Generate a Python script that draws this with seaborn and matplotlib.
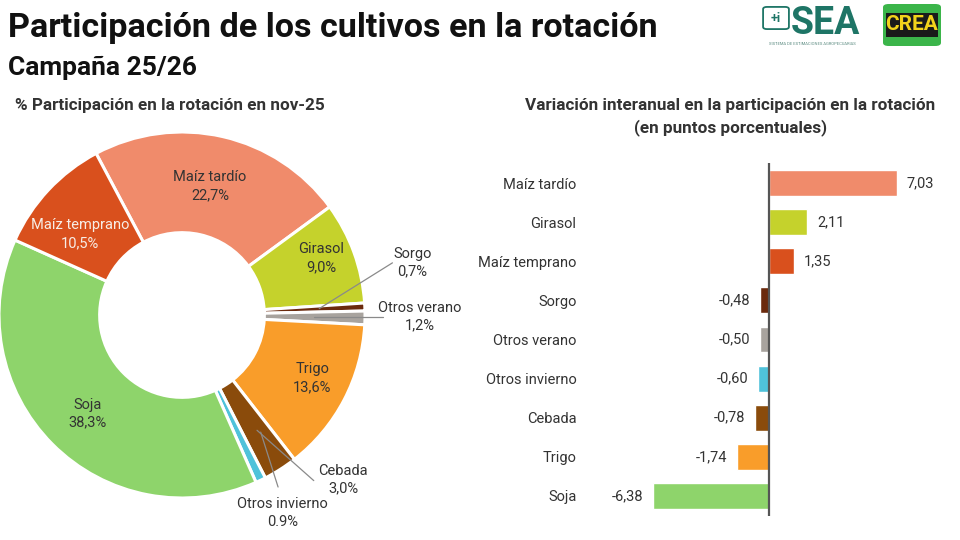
import numpy as np
import pandas as pd
import matplotlib
matplotlib.use("Agg")
import matplotlib.pyplot as plt
from matplotlib.patches import FancyBboxPatch, Rectangle
import seaborn as sns

# ---------------- data ----------------
pie_crops = ["Maíz tardío", "Girasol", "Sorgo", "Otros verano", "Trigo",
             "Cebada", "Otros invierno", "Soja", "Maíz temprano"]
pie_values = [22.7, 9.0, 0.7, 1.2, 13.6, 3.0, 0.9, 38.3, 10.5]
pie_value_text = ["22,7%", "9,0%", "0,7%", "1,2%", "13,6%", "3,0%", "0.9%", "38,3%", "10,5%"]

bar_crops = ["Maíz tardío", "Girasol", "Maíz temprano", "Sorgo", "Otros verano",
             "Otros invierno", "Cebada", "Trigo", "Soja"]
bar_values = [7.03, 2.11, 1.35, -0.48, -0.50, -0.60, -0.78, -1.74, -6.38]

colors = {
    "Maíz tardío": "#F08B6B",
    "Girasol": "#C5D22C",
    "Sorgo": "#6B2A0D",
    "Otros verano": "#A8A39E",
    "Trigo": "#F99D2A",
    "Cebada": "#8A4B0B",
    "Otros invierno": "#4FC2DA",
    "Soja": "#8ED46B",
    "Maíz temprano": "#D9501D",
}

title = "Participación de los cultivos en la rotación"
subtitle = "Campaña 25/26"
left_title = "% Participación en la rotación en nov-25"
right_title = "Variación interanual en la participación en la rotación\n(en puntos porcentuales)"

# ---------------- style ----------------
sns.set_theme(style="white")
plt.rcParams["font.family"] = ["Roboto", "DejaVu Sans"]
TXT = "#333333"

W, H = 960, 540
fig = plt.figure(figsize=(9.6, 5.4), dpi=100)
fig.patch.set_facecolor("white")

def fx(x):
    return x / W

def fy(y):
    return 1 - y / H

# titles
fig.text(fx(8), fy(37), title, fontsize=24.6, weight="bold", color="#111111", va="baseline")
fig.text(fx(8), fy(75), subtitle, fontsize=19, weight="bold", color="#111111", va="baseline")
fig.text(fx(15), fy(110), left_title, fontsize=12.3, weight="bold", color=TXT, va="baseline")
fig.text(fx(730), fy(117), right_title, fontsize=12.3, weight="bold", color=TXT,
         va="center", ha="center", linespacing=1.5)

# ---------------- donut ----------------
cx, cy, R = 182, 315, 183
axp = fig.add_axes([fx(cx - R), fy(cy + R), 2 * R / W, 2 * R / H])
wedges, _ = axp.pie(pie_values, colors=[colors[c] for c in pie_crops], startangle=118,
                    counterclock=False, radius=1,
                    wedgeprops=dict(width=0.55, edgecolor="white", linewidth=2.2))
axp.set_xlim(-1, 1)
axp.set_ylim(-1, 1)
axp.set_aspect("equal")
axp.axis("off")

# label placement: (radius, angle shift in degrees) from wedge middle
inside = {"Maíz tardío": (0.72, 0.6), "Girasol": (0.82, 2.3), "Trigo": (0.79, 1.7),
          "Soja": (0.745, 1.4), "Maíz temprano": (0.71, 4.6)}
outside = {
    # text position, line start, line end (data units of the donut axes)
    "Sorgo": ((1.26, 0.285), (0.75, 0.035), (1.15, 0.285)),
    "Otros verano": ((1.30, -0.01), (0.72, -0.011), (1.10, -0.011)),
    "Cebada": ((0.88, -0.90), (0.41, -0.63), (0.72, -0.905)),
    "Otros invierno": ((0.55, -1.08), (0.43, -0.64), (0.525, -0.94)),
}
for w, crop, lab in zip(wedges, pie_crops, pie_value_text):
    mid = np.deg2rad((w.theta1 + w.theta2) / 2)
    if crop in inside:
        r, dang = inside[crop]
        a = mid + np.deg2rad(dang)
        col = "#F7EDE6" if crop == "Maíz temprano" else TXT
        axp.text(r * np.cos(a), r * np.sin(a), f"{crop}\n{lab}", ha="center", va="center",
                 fontsize=10.5, color=col, linespacing=1.35)
    else:
        (tx, ty), (x0, y0), (x1, y1) = outside[crop]
        axp.plot([x0, x1], [y0, y1], color="#8a8a8a", lw=0.9, clip_on=False)
        axp.text(tx, ty, f"{crop}\n{lab}", ha="center", va="center", fontsize=10.5,
                 color=TXT, linespacing=1.35, clip_on=False)

# ---------------- bars ----------------
df = pd.DataFrame({"cultivo": bar_crops, "valor": bar_values})
axb = fig.add_axes([fx(582), fy(515.5), (940 - 582) / W, 352 / H])
sns.barplot(data=df, x="valor", y="cultivo", hue="cultivo", palette=colors, legend=False,
            orient="h", width=0.66, saturation=1, ax=axb)
axb.set_xlim(-(769 - 582) / 18.2, (940 - 769) / 18.2)
axb.set_ylim(len(bar_crops) - 0.5, -0.5)
axb.axvline(0, color="#555555", lw=1.6)
for s in axb.spines.values():
    s.set_visible(False)
axb.set_xticks([])
axb.set_xlabel("")
axb.set_ylabel("")
axb.tick_params(axis="y", length=0, pad=4, labelsize=10.5, labelcolor=TXT)
for i, v in enumerate(bar_values):
    txt = f"{v:.2f}".replace(".", ",")
    off = 0.55
    axb.text(v + off if v >= 0 else v - off, i, txt, ha="left" if v >= 0 else "right",
             va="center", fontsize=10.5, color=TXT)

# ---------------- logos ----------------
teal = "#1E7566"
fig.text(fx(791), fy(34), "SEA", fontsize=27, weight="bold", color=teal, va="baseline")
fig.patches.append(FancyBboxPatch((fx(765), fy(28)), fx(22), 20 / H,
                                  boxstyle="round,pad=0.002,rounding_size=0.004",
                                  transform=fig.transFigure, fc="white", ec=teal, lw=1.3))
fig.text(fx(776), fy(18), "+i", fontsize=9, weight="bold", color=teal, ha="center", va="center")
fig.text(fx(812), fy(44), "SISTEMA DE ESTIMACIONES AGROPECUARIAS", fontsize=3, color="#5a8a80",
         ha="center", va="center")
fig.patches.append(FancyBboxPatch((fx(883), fy(46)), fx(58), 42 / H,
                                  boxstyle="round,pad=0,rounding_size=0.006",
                                  transform=fig.transFigure, fc="#3BB54A", ec="none"))
fig.patches.append(Rectangle((fx(886), fy(37)), fx(52), 24 / H, transform=fig.transFigure,
                             fc="#1a1a1a", ec="none"))
fig.text(fx(912), fy(25), "CREA", fontsize=15, weight="bold", color="#F2D21B",
         ha="center", va="center")

fig.savefig("out.png", dpi=100, facecolor="white")
